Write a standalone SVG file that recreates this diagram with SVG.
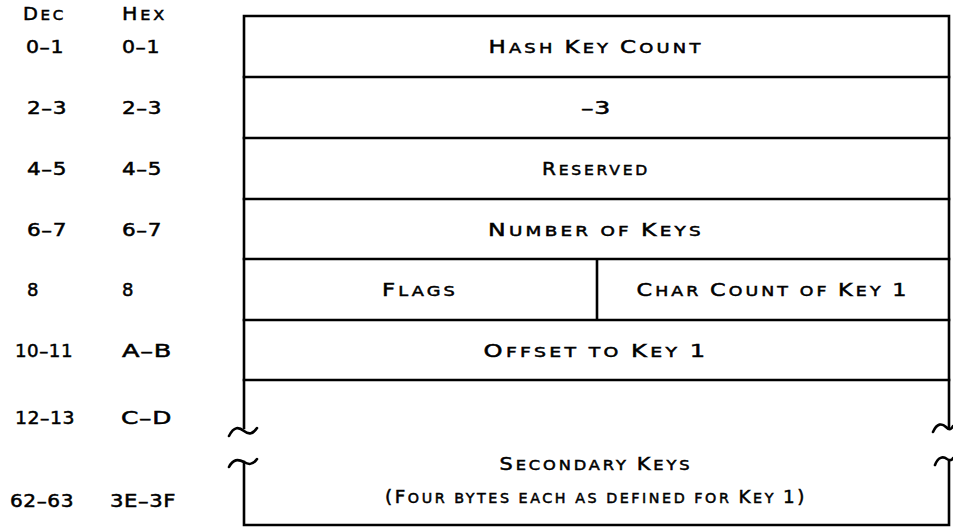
<svg xmlns="http://www.w3.org/2000/svg" width="953" height="527" viewBox="0 0 953 527">
<style>
.t{font-family:"DejaVu Sans","Liberation Sans",sans-serif;font-size:14px;letter-spacing:2.5px;fill:#000;stroke:#000;stroke-width:0.5}
.B{font-size:18px}
.L{letter-spacing:0.5px}
.c{text-anchor:middle}
.ln{fill:none;stroke:#000;stroke-width:2.6;stroke-linecap:square}
.br{fill:none;stroke:#000;stroke-width:2.6;stroke-linecap:round}
</style>
<rect width="953" height="527" fill="#fff"/>
<g id="labels">
<text class="t" x="23" y="20" textLength="43" lengthAdjust="spacingAndGlyphs"><tspan class="B">D</tspan>EC</text>
<text class="t" x="122" y="20" textLength="45" lengthAdjust="spacingAndGlyphs"><tspan class="B">H</tspan>EX</text>
<text class="t B L" x="26" y="53" textLength="38" lengthAdjust="spacingAndGlyphs">0–1</text>
<text class="t B L" x="122" y="53" textLength="38" lengthAdjust="spacingAndGlyphs">0–1</text>
<text class="t B L" x="27" y="114" textLength="40" lengthAdjust="spacingAndGlyphs">2–3</text>
<text class="t B L" x="122" y="114" textLength="40" lengthAdjust="spacingAndGlyphs">2–3</text>
<text class="t B L" x="27" y="175" textLength="40" lengthAdjust="spacingAndGlyphs">4–5</text>
<text class="t B L" x="122" y="175" textLength="40" lengthAdjust="spacingAndGlyphs">4–5</text>
<text class="t B L" x="27" y="236" textLength="40" lengthAdjust="spacingAndGlyphs">6–7</text>
<text class="t B L" x="122" y="236" textLength="40" lengthAdjust="spacingAndGlyphs">6–7</text>
<text class="t B L" x="27" y="296">8</text>
<text class="t B L" x="122" y="296">8</text>
<text class="t B L" x="15" y="357" textLength="58" lengthAdjust="spacingAndGlyphs">10–11</text>
<text class="t B L" x="122" y="357" textLength="50" lengthAdjust="spacingAndGlyphs">A–B</text>
<text class="t B L" x="15" y="424" textLength="60" lengthAdjust="spacingAndGlyphs">12–13</text>
<text class="t B L" x="121" y="424" textLength="51" lengthAdjust="spacingAndGlyphs">C–D</text>
<text class="t B L" x="10" y="507" textLength="64" lengthAdjust="spacingAndGlyphs">62–63</text>
<text class="t B L" x="110" y="507" textLength="66" lengthAdjust="spacingAndGlyphs">3E–3F</text>
</g>
<g id="connectors">
<path class="ln" d="M244,428 L244,16 L949,16 L949,427"/>
<path class="ln" d="M244,462 L244,525 L949,525 L949,461"/>
<path class="br" d="M229,436 C234,426 239,427 244,431 C249,435 253,434 257,428"/>
<path class="br" d="M229,467 C233,459 238,459 244,462 C249,465 253,465 257,459"/>
<path class="br" d="M933,432 C937,423 942,423 946,427 C949,430 951,430 953,426"/>
<path class="br" d="M935,465 C938,457 943,456 947,459 C950,461 952,460 953,458"/>
<path class="ln" d="M244,77 H949 M244,138 H949 M244,199 H949 M244,259 H949 M244,320 H949 M244,380 H949 M597,259 V320"/>
</g>
<g id="n1"><text class="t c" x="596" y="53" textLength="215" lengthAdjust="spacingAndGlyphs"><tspan class="B">H</tspan>ASH <tspan class="B">K</tspan>EY <tspan class="B">C</tspan>OUNT</text></g>
<g id="n2"><text class="t c B L" x="596" y="114" textLength="30" lengthAdjust="spacingAndGlyphs">–3</text></g>
<g id="n3"><text class="t c" x="596" y="175" textLength="108" lengthAdjust="spacingAndGlyphs"><tspan class="B">R</tspan>ESERVED</text></g>
<g id="n4"><text class="t c" x="596" y="236" textLength="216" lengthAdjust="spacingAndGlyphs"><tspan class="B">N</tspan>UMBER OF <tspan class="B">K</tspan>EYS</text></g>
<g id="n5"><text class="t c" x="420" y="296" textLength="76" lengthAdjust="spacingAndGlyphs"><tspan class="B">F</tspan>LAGS</text></g>
<g id="n6"><text class="t c" x="773" y="296" textLength="273" lengthAdjust="spacingAndGlyphs"><tspan class="B">C</tspan>HAR <tspan class="B">C</tspan>OUNT OF <tspan class="B">K</tspan>EY <tspan class="B">1</tspan></text></g>
<g id="n7"><text class="t c" x="596" y="357" textLength="225" lengthAdjust="spacingAndGlyphs"><tspan class="B">O</tspan>FFSET TO <tspan class="B">K</tspan>EY <tspan class="B">1</tspan></text></g>
<g id="n8">
<text class="t c" x="596" y="470" textLength="193" lengthAdjust="spacingAndGlyphs"><tspan class="B">S</tspan>ECONDARY <tspan class="B">K</tspan>EYS</text>
<text class="t c" x="596" y="503" textLength="422" lengthAdjust="spacingAndGlyphs"><tspan class="B">(F</tspan>OUR BYTES EACH AS DEFINED FOR <tspan class="B">K</tspan>EY <tspan class="B">1)</tspan></text>
</g>
</svg>
